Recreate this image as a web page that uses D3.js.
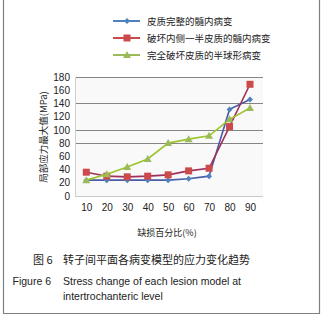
<!DOCTYPE html>
<html>
<head>
<meta charset="utf-8">
<script src="https://cdn.jsdelivr.net/npm/d3@7"></script>
<style>
  body { margin: 0; background: #fff; }
  text { font-family: "Liberation Sans", Arial, sans-serif; fill: #222; }
  .cjk { font-family: "Noto Sans CJK SC", sans-serif; }
</style>
</head>
<body>
<div id="chart"></div>
<script>

// data
const categories = [10, 20, 30, 40, 50, 60, 70, 80, 90]
const intactCortex = [24, 24, 24, 24, 24, 26, 30, 131, 146]
const halfCortex = [36, 30, 29, 30, 32, 38, 42, 105, 169]
const fullCortex = [24, 33, 44, 56, 80, 86, 91, 116, 133]
const seriesNames = ['皮质完整的髓内病变', '破坏内侧一半皮质的髓内病变', '完全破坏皮质的半球形病变']
const yTicks = [0, 20, 40, 60, 80, 100, 120, 140, 160, 180]
const gridValues = [80, 100, 140, 180]

const series = [
    {name: seriesNames[0], values: intactCortex, line: '#4a5ca8', fill: '#4f81bd', marker: 'diamond'},
    {name: seriesNames[1], values: halfCortex, line: '#a0305c', fill: '#cc4a4a', marker: 'square'},
    {name: seriesNames[2], values: fullCortex, line: '#9cc42c', fill: '#9bbb59', marker: 'triangle'}
]

const W = 324, H = 314
const svg = d3.select('#chart').append('svg')
    .attr('width', W)
    .attr('height', H)

// outer frame (left, right, bottom)
svg.append('path')
    .attr('d', `M3.5,0 V313.5 H319.5 V0`)
    .attr('fill', 'none')
    .attr('stroke', '#7f7f7f')
    .attr('stroke-width', 1.2)

const plot = {left: 75, right: 263, top: 77, bottom: 196}

const x = d3.scalePoint()
    .domain(categories)
    .range([86.3, 250])

const y = d3.scaleLinear()
    .domain([0, 180])
    .range([plot.bottom, plot.top])

// plot background
svg.append('rect')
    .attr('x', plot.left)
    .attr('y', plot.top)
    .attr('width', plot.right - plot.left)
    .attr('height', plot.bottom - plot.top)
    .attr('fill', '#f9f9f9')

// gridlines
svg.selectAll('.grid')
    .data(gridValues)
    .enter()
    .append('line')
    .attr('class', 'grid')
    .attr('x1', plot.left)
    .attr('x2', plot.right)
    .attr('y1', d => Math.round(y(d)) + 0.5)
    .attr('y2', d => Math.round(y(d)) + 0.5)
    .attr('stroke', '#858585')
    .attr('stroke-width', 1)

// axis lines
svg.append('line')
    .attr('x1', plot.left + 0.5).attr('x2', plot.left + 0.5)
    .attr('y1', plot.top).attr('y2', plot.bottom)
    .attr('stroke', '#d0d0d0')
svg.append('line')
    .attr('x1', plot.left).attr('x2', plot.right)
    .attr('y1', plot.bottom + 0.5).attr('y2', plot.bottom + 0.5)
    .attr('stroke', '#c8c8c8')

// y axis
const yAxis = svg.append('g')
    .attr('transform', `translate(70,0)`)
    .call(d3.axisLeft(y).tickValues(yTicks).tickSize(0).tickPadding(0))
yAxis.select('.domain').remove()
yAxis.selectAll('text')
    .style('font-family', '"Liberation Sans", Arial, sans-serif')
    .style('font-size', '10px')
    .attr('fill', '#222')

// x axis
const xAxis = svg.append('g')
    .attr('transform', `translate(0,${plot.bottom})`)
    .call(d3.axisBottom(x).tickSize(0).tickPadding(8))
xAxis.select('.domain').remove()
xAxis.selectAll('text')
    .style('font-family', '"Liberation Sans", Arial, sans-serif')
    .style('font-size', '10px')
    .attr('fill', '#222')

// y axis title
svg.append('text')
    .attr('class', 'cjk')
    .attr('transform', 'translate(47,137) rotate(-90)')
    .attr('text-anchor', 'middle')
    .style('font-size', '9.5px')
    .text('局部应力最大值(MPa)')

// x axis title
svg.append('text')
    .attr('class', 'cjk')
    .attr('x', 167)
    .attr('y', 236)
    .attr('text-anchor', 'middle')
    .style('font-size', '9px')
    .text('缺损百分比(%)')

const line = d3.line()
    .x((d, i) => x(categories[i]))
    .y(d => y(d))

function drawMarker(g, type, color) {
    if (type === 'diamond') {
        g.append('path').attr('d', 'M0,-3 L3,0 L0,3 L-3,0 Z').attr('fill', color)
    } else if (type === 'square') {
        g.append('rect').attr('x', -3.5).attr('y', -3.5).attr('width', 7).attr('height', 7).attr('fill', color)
    } else {
        g.append('path').attr('d', 'M0,-4 L4,3 L-4,3 Z').attr('fill', color)
    }
}

series.forEach(s => {
    svg.append('path')
        .datum(s.values)
        .attr('d', line)
        .attr('fill', 'none')
        .attr('stroke', s.line)
        .attr('stroke-width', 1.6)

    s.values.forEach((v, i) => {
        let g = svg.append('g')
            .attr('transform', `translate(${x(categories[i])},${y(v)})`)
        drawMarker(g, s.marker, s.fill)
    })
})

// legend
series.forEach((s, i) => {
    let ly = 21 + i * 17
    let g = svg.append('g').attr('transform', `translate(0,${ly})`)
    g.append('line')
        .attr('x1', 113).attr('x2', 140)
        .attr('stroke', s.fill)
        .attr('stroke-width', 2)
    let m = g.append('g').attr('transform', 'translate(127,0)')
    drawMarker(m, s.marker, s.fill)
    g.append('text')
        .attr('class', 'cjk')
        .attr('x', 147)
        .attr('y', 3.5)
        .style('font-size', '9.5px')
        .text(s.name)
})

// figure captions
svg.append('text')
    .attr('class', 'cjk')
    .attr('x', 33)
    .attr('y', 264)
    .style('font-size', '11px')
    .text('图 6')
svg.append('text')
    .attr('class', 'cjk')
    .attr('x', 63)
    .attr('y', 264)
    .style('font-size', '11px')
    .text('转子间平面各病变模型的应力变化趋势')

svg.append('text')
    .attr('x', 12.5)
    .attr('y', 285)
    .style('font-size', '10.5px')
    .text('Figure 6')
svg.append('text')
    .attr('x', 63)
    .attr('y', 285)
    .style('font-size', '10.5px')
    .text('Stress change of each lesion model at')
svg.append('text')
    .attr('x', 63)
    .attr('y', 300)
    .style('font-size', '10.5px')
    .text('intertrochanteric level')

</script>
</body>
</html>
